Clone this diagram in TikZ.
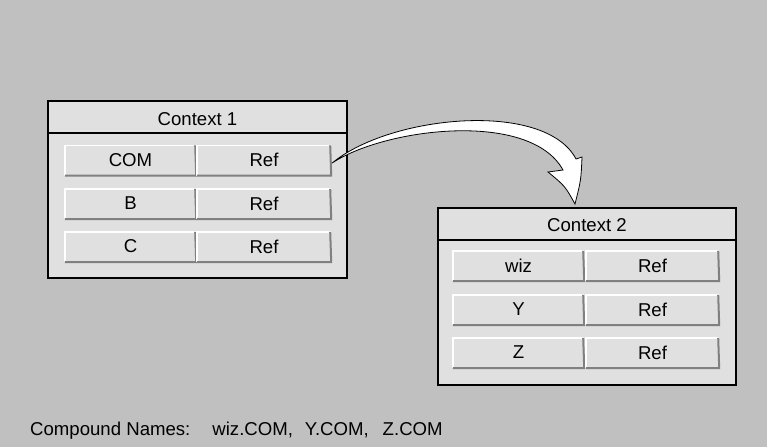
\documentclass[tikz,border=0pt]{standalone}
\usepackage{fontspec}
\setmainfont{Liberation Sans}
\definecolor{bg}{HTML}{C0C0C0}
\definecolor{panel}{HTML}{E0E0E0}
\definecolor{cellshadow}{HTML}{808080}
\begin{document}
\begin{tikzpicture}[x=1pt,y=-1pt,
  every node/.style={font=\fontsize{18.6}{21}\selectfont, text=black, inner sep=0pt},
  ctxbox/.style={draw=black, line width=2pt, fill=panel, minimum width=#1, minimum height=177},
  cellbox/.style={fill=panel, minimum width=#1, minimum height=29},
  hilite/.style={draw=white, line width=1.5pt},
  lowlite/.style={draw=cellshadow, line width=2pt},
  bigarrow/.style={fill=white, draw=black, line width=0.8pt, line join=miter}]
\useasboundingbox (0,0) rectangle (767,447);
\fill[bg] (0,0) rectangle (767,447);

% Context 1
\node[ctxbox=299] (ctxA) at (197.5,189.5) {};
\node (titleA) at (197.5,119.5) {Context 1};
\draw[line width=2pt] (ctxA.west |- 0,133) -- (ctxA.east |- 0,133);

% Context 2
\node[ctxbox=298] (ctxB) at (587,296) {};
\node (titleB) at (587,225) {Context 2};
\draw[line width=2pt] (ctxB.west |- 0,240) -- (ctxB.east |- 0,240);

% cells
\newcommand{\mycell}[4]{%
  \node[cellbox=#3] (#1) at #2 {#4};
  \draw[hilite] ([yshift=-1pt]#1.south west) -- (#1.north west) -- (#1.north east);
  \draw[lowlite] ([yshift=-1pt]#1.south west) -- ([yshift=-1pt]#1.south east) -- ([xshift=-1pt]#1.north east);
}
\mycell{a1}{(130.5,160)}{131}{COM}
\mycell{a2}{(264,160)}{134}{Ref}
\mycell{b1}{(130.5,203.5)}{131}{B}
\mycell{b2}{(264,203.5)}{134}{Ref}
\mycell{c1}{(130.5,246.5)}{131}{C}
\mycell{c2}{(264,246.5)}{134}{Ref}

\mycell{d1}{(518.5,265.5)}{131}{wiz}
\mycell{d2}{(652.5,265.5)}{133}{Ref}
\mycell{e1}{(518.5,309.5)}{131}{Y}
\mycell{e2}{(652.5,309.5)}{133}{Ref}
\mycell{f1}{(518.5,352.5)}{131}{Z}
\mycell{f2}{(652.5,352.5)}{133}{Ref}

% arrow
\coordinate (tail) at ([xshift=1pt,yshift=-3pt]a2.east);
\coordinate (tip) at (575,204);
\draw[bigarrow] (tail) .. controls (390,115) and (545,100) .. (576,159)
  -- (582,157) .. controls (581,180) .. (tip)
  .. controls (565,186) .. (548,172) -- (563,170)
  .. controls (530,110) and (385,128) .. (tail) -- cycle;

% caption
\node[anchor=base west] (caption) at (30,435) {Compound Names:\hspace{22pt}wiz.COM,\hspace{12pt}Y.COM,\hspace{14pt}Z.COM};
\end{tikzpicture}
\end{document}
